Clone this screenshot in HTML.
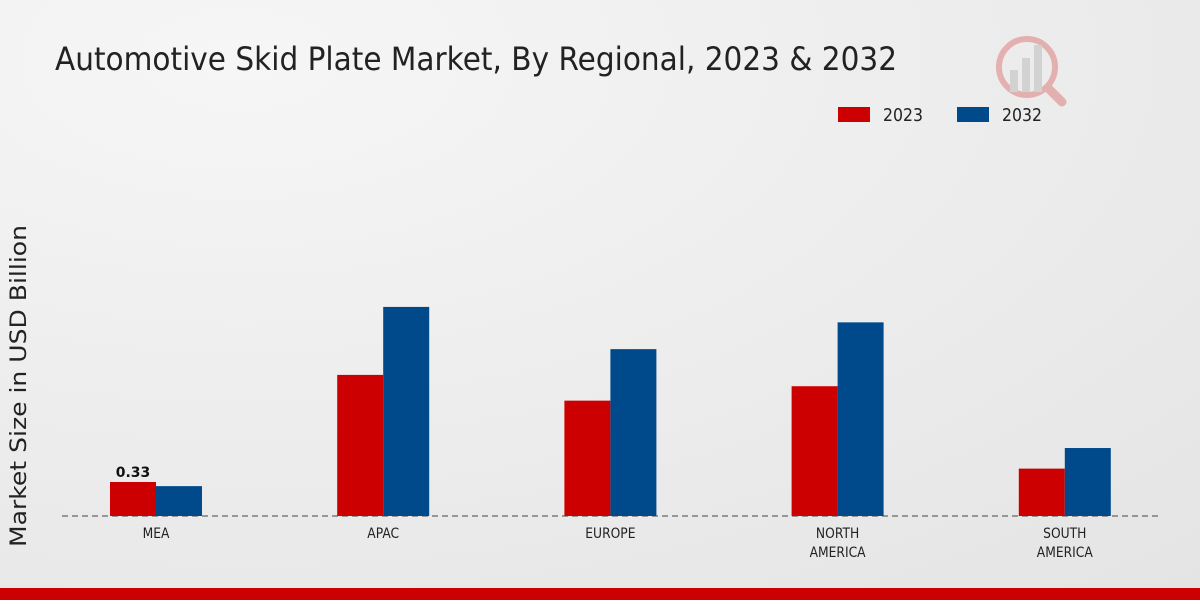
<!DOCTYPE html>
<html><head><meta charset="utf-8"><style>
body{margin:0;width:1200px;height:600px;overflow:hidden;font-family:"DejaVu Sans","Liberation Sans",sans-serif}
</style></head><body>
<svg id="chart" width="1200" height="600" xmlns="http://www.w3.org/2000/svg">
<defs><radialGradient id="bg" cx="0.2" cy="0.1" r="1.2"><stop offset="0" stop-color="#f6f6f6"/><stop offset="1" stop-color="#e4e4e4"/></radialGradient></defs>
<rect width="1200" height="600" fill="url(#bg)"/>
<text x="55" y="70" font-size="32" fill="#222" textLength="842" lengthAdjust="spacingAndGlyphs">Automotive Skid Plate Market, By Regional, 2023 &amp; 2032</text>
<g opacity="0.25">
<circle cx="1027" cy="67" r="28" fill="none" stroke="#c00" stroke-width="6"/>
<rect x="1010" y="70" width="8" height="22" fill="#888"/><rect x="1022" y="58" width="8" height="34" fill="#888"/><rect x="1034" y="45" width="8" height="47" fill="#888"/>
<line x1="1048" y1="88" x2="1062" y2="102" stroke="#c00" stroke-width="9" stroke-linecap="round"/>
</g>
<g>
<rect x="838" y="107" width="32" height="15" fill="#cc0000"/>
<text x="883" y="121" font-size="18" fill="#222" textLength="40" lengthAdjust="spacingAndGlyphs">2023</text>
<rect x="957" y="107" width="32" height="15" fill="#004a8c"/>
<text x="1002" y="121" font-size="18" fill="#222" textLength="40" lengthAdjust="spacingAndGlyphs">2032</text>
</g>
<text transform="translate(26,386) rotate(-90)" text-anchor="middle" font-size="22" fill="#222" textLength="322" lengthAdjust="spacingAndGlyphs">Market Size in USD Billion</text>
<line x1="62" y1="516" x2="1160" y2="516" stroke="#444" stroke-dasharray="6,4"/>
<g id="bars"></g>
<rect x="0" y="588" width="1200" height="12" fill="#cc0000"/>
</svg>
<script>
const categories=[["MEA"],["APAC"],["EUROPE"],["NORTH","AMERICA"],["SOUTH","AMERICA"]];
const values2023=[0.33,1.37,1.12,1.26,0.46];
const values2032=[0.29,2.03,1.62,1.88,0.66];
const ns="http://www.w3.org/2000/svg";
const baseY=516, pxPerUnit=103;
const y=v=>baseY-v*pxPerUnit;
const xc=i=>156+i*227.2;
const g=document.getElementById('bars');
function mk(t,a){const e=document.createElementNS(ns,t);for(const k in a)e.setAttribute(k,a[k]);g.appendChild(e);return e;}
categories.forEach((c,i)=>{
 const b1=mk('rect',{x:xc(i)-46,y:y(values2023[i]),width:46,height:baseY-y(values2023[i]),fill:'#cc0000'});
 
 
 const b2=mk('rect',{x:xc(i),y:y(values2032[i]),width:46,height:baseY-y(values2032[i]),fill:'#004a8c'});
 
 
 c.forEach((l,j)=>{
  const t=mk('text',{x:xc(i),y:538+j*19,'text-anchor':'middle','font-size':14,fill:'#222',transform:'translate('+xc(i)+',0) scale(0.88,1) translate('+(-xc(i))+',0)'});
  t.textContent=l;
  
  
 });
});
const lab=mk('text',{x:xc(0)-23,y:y(values2023[0])-5,'text-anchor':'middle','font-size':14,'font-weight':'bold',fill:'#111'});
lab.textContent=values2023[0].toFixed(2);


</script>
</body></html>
